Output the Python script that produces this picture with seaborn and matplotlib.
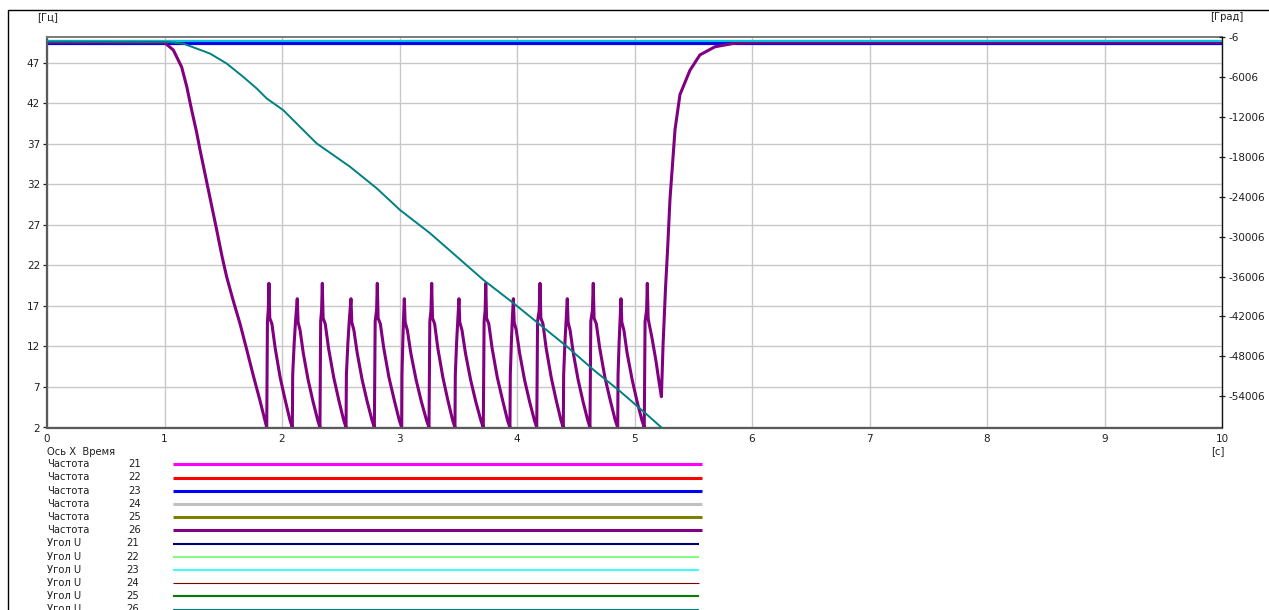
import matplotlib
matplotlib.use("Agg")
import matplotlib.pyplot as plt
import seaborn as sns
from matplotlib.lines import Line2D

sns.set_style("white")
plt.rcParams['font.family'] = ['DejaVu Sans']

W, H = 1269, 610

# time axis, seconds
x_ticks = list(range(0, 11))
f_ticks = [2, 7, 12, 17, 22, 27, 32, 37, 42, 47]
ang_ticks = [-6, -6006, -12006, -18006, -24006, -30006, -36006, -42006, -48006, -54006]

# frequency channels 21..25 stay flat (Hz)
t_flat = [0.0, 10.0]
f_flat = [49.45, 49.45]

# frequency channel 26 (Hz)
t_f26 = [0.0, 1.0, 1.01, 1.075, 1.146, 1.189, 1.231, 1.274, 1.302, 1.40, 1.444,
         1.49, 1.529, 1.586, 1.643, 1.70, 1.756, 1.813,
         1.870, 1.876, 1.883, 1.889, 1.896, 1.914, 1.942, 1.984, 2.027, 2.068,
         2.088, 2.091, 2.104, 2.116, 2.130, 2.137, 2.154, 2.181, 2.222, 2.264, 2.304,
         2.323, 2.329, 2.337, 2.343, 2.350, 2.368, 2.396, 2.440, 2.483, 2.525,
         2.545, 2.548, 2.561, 2.573, 2.587, 2.594, 2.612, 2.640, 2.682, 2.725, 2.766,
         2.786, 2.793, 2.805, 2.811, 2.818, 2.837, 2.866, 2.910, 2.955, 2.998,
         3.019, 3.021, 3.028, 3.034, 3.041, 3.048, 3.067, 3.096, 3.141, 3.186, 3.230,
         3.251, 3.258, 3.268, 3.274, 3.281, 3.299, 3.326, 3.369, 3.411, 3.452,
         3.472, 3.475, 3.486, 3.496, 3.506, 3.513, 3.532, 3.561, 3.605, 3.649, 3.692,
         3.713, 3.720, 3.729, 3.734, 3.741, 3.760, 3.788, 3.832, 3.877, 3.919,
         3.940, 3.943, 3.952, 3.960, 3.969, 3.976, 3.994, 4.022, 4.064, 4.107, 4.148,
         4.168, 4.175, 4.189, 4.196, 4.203, 4.221, 4.248, 4.291, 4.333, 4.374,
         4.394, 4.397, 4.408, 4.418, 4.428, 4.435, 4.452, 4.479, 4.520, 4.562, 4.602,
         4.621, 4.628, 4.642, 4.649, 4.656, 4.675, 4.704, 4.748, 4.793, 4.836,
         4.857, 4.860, 4.869, 4.877, 4.885, 4.892, 4.910, 4.937, 4.980, 5.022, 5.063,
         5.083, 5.090, 5.103, 5.109, 5.116, 5.122, 5.147, 5.183, 5.208,
         5.229, 5.243, 5.264, 5.282, 5.302, 5.345, 5.387, 5.472, 5.557, 5.685, 5.855,
         6.068, 10.0]
f26 = [49.55, 49.55, 49.4, 48.6, 46.5, 44.1, 41.2, 38.4, 36.3, 29.5, 26.4,
       23.1, 20.6, 17.6, 14.8, 11.6, 8.4, 5.3,
       2.0, 15.1, 16.5, 19.8, 15.5, 14.8, 11.8, 8.2, 5.4, 2.9,
       2.0, 8.5, 12.5, 15.3, 17.9, 15.0, 14.0, 11.2, 7.9, 5.2, 2.9,
       2.0, 15.1, 16.5, 19.8, 15.5, 14.8, 11.8, 8.2, 5.4, 2.9,
       2.0, 8.5, 12.5, 15.3, 17.9, 15.0, 14.0, 11.2, 7.9, 5.2, 2.9,
       2.0, 15.1, 16.5, 19.8, 15.5, 14.8, 11.8, 8.2, 5.4, 2.9,
       2.0, 8.5, 12.5, 15.3, 17.9, 15.0, 14.0, 11.2, 7.9, 5.2, 2.9,
       2.0, 15.1, 16.5, 19.8, 15.5, 14.8, 11.8, 8.2, 5.4, 2.9,
       2.0, 8.5, 12.5, 15.3, 17.9, 15.0, 14.0, 11.2, 7.9, 5.2, 2.9,
       2.0, 15.1, 16.5, 19.8, 15.5, 14.8, 11.8, 8.2, 5.4, 2.9,
       2.0, 8.5, 12.5, 15.3, 17.9, 15.0, 14.0, 11.2, 7.9, 5.2, 2.9,
       2.0, 15.1, 16.5, 19.8, 15.5, 14.8, 11.8, 8.2, 5.4, 2.9,
       2.0, 8.5, 12.5, 15.3, 17.9, 15.0, 14.0, 11.2, 7.9, 5.2, 2.9,
       2.0, 15.1, 16.5, 19.8, 15.5, 14.8, 11.8, 8.2, 5.4, 2.9,
       2.0, 8.5, 12.5, 15.3, 17.9, 15.0, 14.0, 11.2, 7.9, 5.2, 2.9,
       2.0, 15.1, 16.5, 19.8, 15.5, 15.0, 13.2, 10.2, 7.7,
       5.8, 12.2, 19.2, 24.1, 30.2, 38.8, 43.1, 46.1, 48.0, 49.0, 49.45,
       49.55, 49.55]

# voltage angle channels 21..25 stay flat (degrees)
a_flat = [-560, -560]

# voltage angle channel 26 (degrees)
t_a26 = [0.0, 1.019, 1.160, 1.387, 1.529, 1.671, 1.785, 1.870, 2.011, 2.096,
         2.295, 2.579, 2.806, 3.004, 3.260, 3.487, 3.713, 3.969, 4.196, 4.423,
         4.649, 4.877, 5.089, 5.217, 5.30]
a26 = [-650, -700, -950, -2450, -3950, -5970, -7710, -9210, -10970, -12470,
       -15970, -19480, -22720, -25980, -29480, -32990, -36490, -39990, -43240, -46500,
       -50000, -53260, -56500, -58510, -59800]

freq_names = ["21", "22", "23", "24", "25", "26"]
freq_colors = ["#FF00FF", "#FF0000", "#0000FF", "#C0C0C0", "#808000", "#800080"]
ang_names = ["21", "22", "23", "24", "25", "26"]
ang_colors = ["#000080", "#80FF80", "#00FFFF", "#800000", "#008000", "#008080"]
ang_widths = [1.5, 1.5, 1.1, 0.8, 1.5, 1.5]

fig = plt.figure(figsize=(W / 100, H / 100), dpi=100)
ax = fig.add_axes([47 / W, 1 - 427.5 / H, (1222 - 47) / W, (427.5 - 37.3) / H])
ax2 = ax.twinx()

txt = "#1E1E1E"
grid_c = "#C8C8C8"

# flat frequency traces, blue one ends up on top
for i in [0, 1, 3, 4, 2]:
    sns.lineplot(x=t_flat, y=f_flat, ax=ax, color=freq_colors[i], linewidth=2.2,
                 estimator=None, sort=False)
sns.lineplot(x=t_f26, y=f26, ax=ax, color=freq_colors[5], linewidth=2.2,
             estimator=None, sort=False)

# flat angle traces, cyan on top
for i in [4, 3, 1, 0, 2]:
    sns.lineplot(x=t_flat, y=a_flat, ax=ax2, color=ang_colors[i],
                 linewidth=ang_widths[i], estimator=None, sort=False)
sns.lineplot(x=t_a26, y=a26, ax=ax2, color=ang_colors[5], linewidth=1.4,
             estimator=None, sort=False)

ax.set_xlim(0, 10)
ax.set_ylim(2, 50.17)
ax2.set_ylim(-58706, -6)
ax.set_xticks(x_ticks)
ax.set_xticklabels([str(v) for v in x_ticks])
ax.set_yticks(f_ticks)
ax.set_yticklabels([str(v) for v in f_ticks])
ax2.set_yticks(ang_ticks)
ax2.set_yticklabels([str(v) for v in ang_ticks])
ax.set_xlabel("")
ax.set_ylabel("")
ax2.set_ylabel("")

ax.set_axisbelow(True)
ax.grid(True, color=grid_c, linewidth=1.0)
ax2.grid(False)

for s in ["left", "bottom"]:
    ax.spines[s].set_color("#5A5A5A")
    ax.spines[s].set_linewidth(1.6)
ax.spines["top"].set_color("#7A7A7A")
ax.spines["top"].set_linewidth(1.4)
ax.spines["right"].set_visible(False)
for s in ["left", "bottom", "top"]:
    ax2.spines[s].set_visible(False)
ax2.spines["right"].set_color("#111111")
ax2.spines["right"].set_linewidth(1.0)

ax.tick_params(axis="both", direction="out", length=3, width=0.9, colors=txt,
               labelsize=7.5, pad=2)
ax.tick_params(axis="x", pad=1.5)
ax2.tick_params(axis="y", direction="inout", length=5, width=0.9, colors=txt,
                labelsize=7.5, pad=2)

# unit labels
fig.text(37 / W, 1 - 17 / H, "[Гц]", fontsize=7.2, color=txt, va="center", ha="left")
fig.text(1210 / W, 1 - 17 / H, "[Град]", fontsize=7.2, color=txt, va="center", ha="left")
fig.text(1218 / W, 1 - 451 / H, "[с]", fontsize=7.2, color=txt, va="center", ha="center")

# legend block under the chart
fig.text(47 / W, 1 - 451.7 / H, "Ось X  Время", fontsize=7.2, color=txt, va="center")
rows = [("Частота", n, c, 2.2, 128.3, 701.6) for n, c in zip(freq_names, freq_colors)]
rows += [("Угол U", n, c, w, 126.7, 699.0)
         for n, c, w in zip(ang_names, ang_colors, ang_widths)]
for k, (lab, num, c, w, xn, xe) in enumerate(rows):
    y = 1 - (464.3 + 13.2 * k) / H
    fig.text(47 / W, y, lab, fontsize=7.2, color=txt, va="center")
    fig.text(xn / W, y, num, fontsize=7.2, color=txt, va="center")
    fig.add_artist(Line2D([173.3 / W, xe / W], [y, y], color=c, linewidth=w,
                          transform=fig.transFigure, solid_capstyle="butt"))

# frame around the window
fig.add_artist(Line2D([7.5 / W, 7.5 / W, 1.0], [0.0, 1 - 9.5 / H, 1 - 9.5 / H],
                      color="black", linewidth=1.0, transform=fig.transFigure))

fig.savefig("out.png", dpi=100)
